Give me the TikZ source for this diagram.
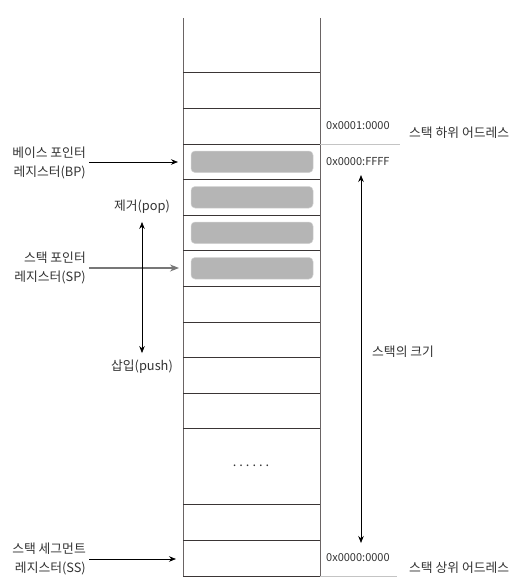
\documentclass[tikz,border=0pt]{standalone}
\usepackage{fontspec}
\setmainfont{Noto Sans CJK KR}
\usetikzlibrary{arrows.meta}
\definecolor{txt}{HTML}{333333}
\definecolor{stackline}{HTML}{6A6464}
\definecolor{rowline}{HTML}{3A3535}
\definecolor{cellfill}{HTML}{B5B5B5}
\definecolor{celledge}{HTML}{D2D2D2}
\definecolor{addrline}{HTML}{C4C4C4}
\definecolor{sparrow}{HTML}{777777}
\tikzset{
  lbl/.style={text=txt, font=\fontsize{12.8}{19}\selectfont, inner sep=3pt},
  addr/.style={text=txt, font=\fontsize{11}{12}\selectfont, inner sep=0pt, anchor=west},
  regl/.style={lbl, align=right, anchor=east},
  arr/.style={draw=black, line width=0.7pt, -{Stealth[length=7pt,width=5.5pt]}},
  dblarr/.style={draw=black, line width=0.7pt, {Stealth[length=7pt,width=5.5pt]}-{Stealth[length=7pt,width=5.5pt]}},
  grayarr/.style={draw=sparrow, line width=1.1pt, -{Stealth[length=9pt,width=7pt]}},
  cell/.style={fill=cellfill, draw=celledge, line width=0.5pt, rounded corners=4pt},
}
\begin{document}
\begin{tikzpicture}[x=1pt,y=-1pt]
\useasboundingbox (0,0) rectangle (529,578);
% stack walls
\draw[stackline, line width=1pt] (183,18) -- (183,576);
\draw[stackline, line width=1pt] (320,18) -- (320,576);
% row lines
\foreach \yy in {72,108,144,179,215,250,286,322,357,393,428,504,540,576}
  \draw[rowline, line width=0.8pt] (183,\yy) -- (320,\yy);
% address separators
\draw[addrline, line width=0.8pt] (320,144) -- (400,144);
\draw[addrline, line width=0.8pt] (320,576) -- (397,576);
% filled cells
\foreach \yy in {144,179.5,215,250.5}
  \draw[cell] (191,\yy+7) rectangle (313,\yy+28.5);
% dots
\node[lbl] (dots) at (251,466) {.\kern3pt.\kern3pt.\kern3pt.\kern3pt.\kern3pt.};
% targets on stack
\coordinate (bpt) at (178,162);
\coordinate (spt) at (179,268);
\coordinate (sst) at (176,559);
% register labels
\node[regl] (bp) at (89,162.5) {베이스 포인터\\레지스터(BP)};
\node[regl] (sp) at (89,268) {스택 포인터\\레지스터(SP)};
\node[regl] (ss) at (89,558.5) {스택 세그먼트\\레지스터(SS)};
\draw[arr] (bp.east |- bpt) -- (bpt);
\draw[grayarr] (sp.east |- spt) -- (spt);
\draw[arr] (ss.east |- sst) -- (sst);
% pop / push
\node[lbl] (pop) at (142,207) {제거(pop)};
\node[lbl] (push) at (142,367) {삽입(push)};
\draw[dblarr, shorten <=5pt, shorten >=4pt] (pop.south) -- (push.north);
% addresses
\node[addr] (a1) at (326,126) {0x0001:0000};
\node[addr] (a2) at (326,162) {0x0000:FFFF};
\node[addr] (a3) at (326,558) {0x0000:0000};
\node[lbl, anchor=west] (low) at (406,133) {스택 하위 어드레스};
\node[lbl, anchor=west] (high) at (406,568) {스택 상위 어드레스};
% stack size
\coordinate (sztop) at (361,175);
\coordinate (szbot) at (361,543);
\draw[dblarr] (sztop) -- (szbot);
\node[lbl, anchor=west] (size) at (369,352) {스택의 크기};
\end{tikzpicture}
\end{document}
